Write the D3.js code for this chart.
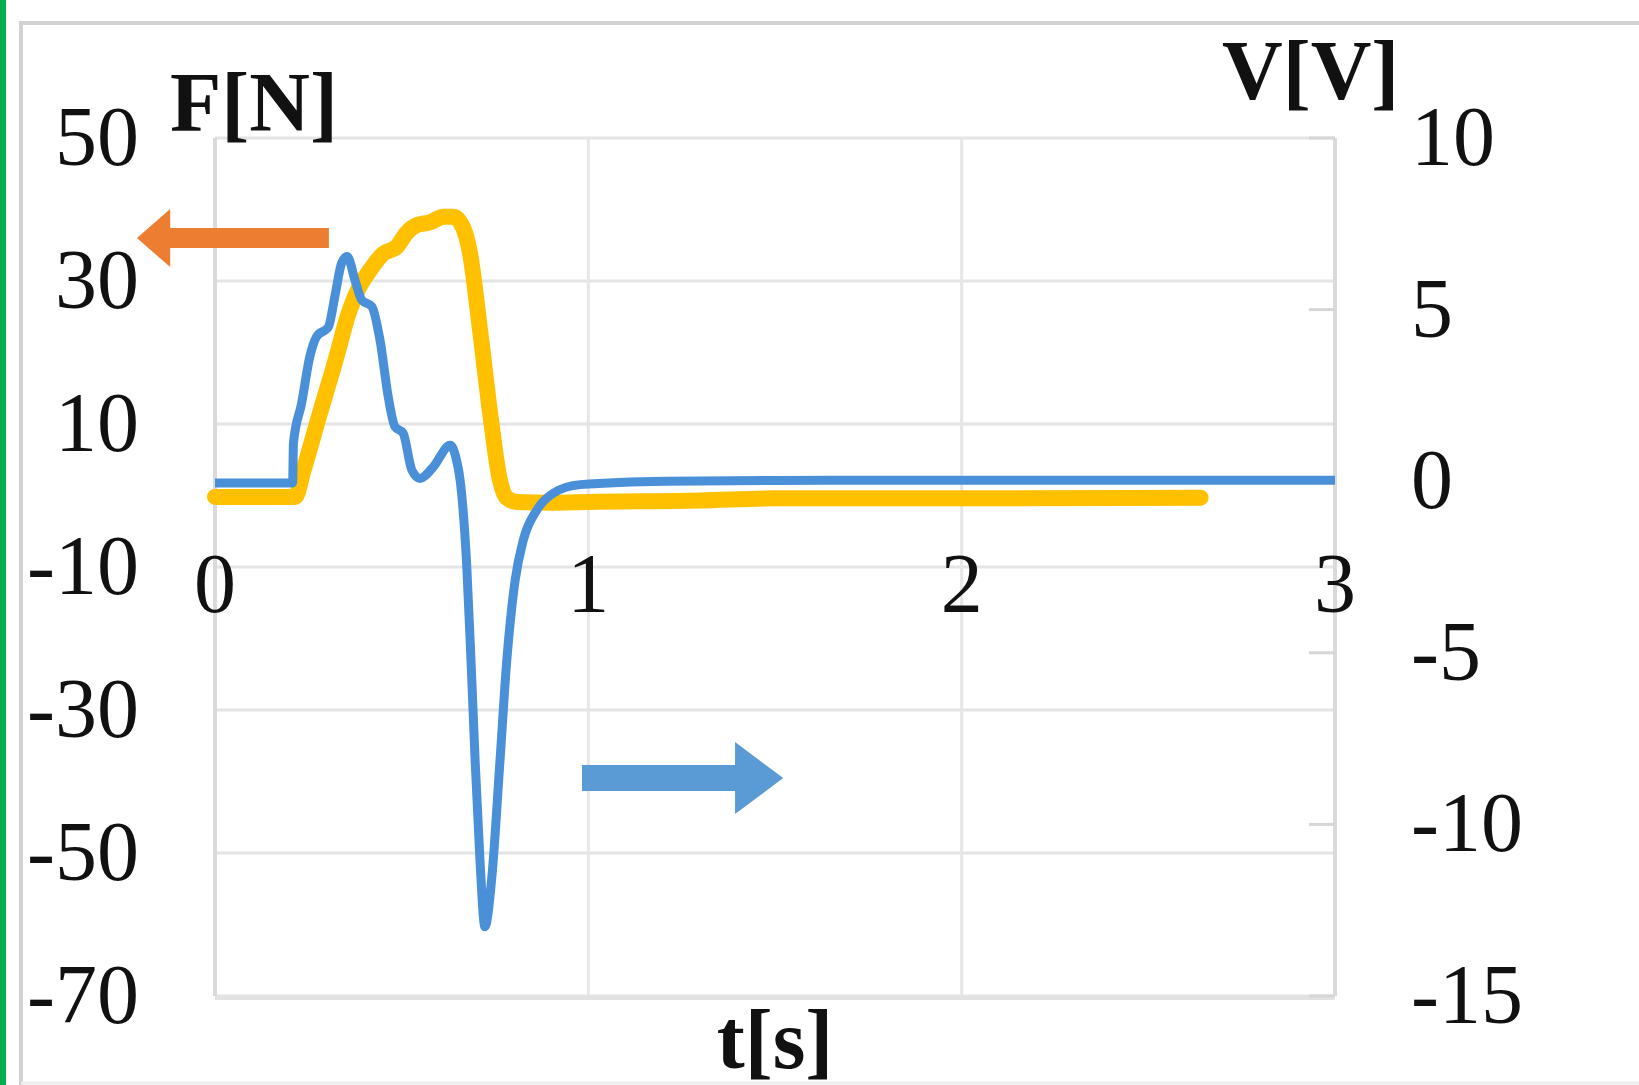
<!DOCTYPE html>
<html>
<head>
<meta charset="utf-8">
<script src="https://cdn.jsdelivr.net/npm/d3@7"></script>
<style>
  body { margin: 0; background: #fff; }
  text { font-family: "Liberation Serif", "Times New Roman", serif; fill: #111; }
</style>
</head>
<body>
<div id="chart"></div>
<script>
// chart size
var width = 1639,
    height = 1085;

// data (t in s, force in N, voltage in V)
var forceT = [0, 0.215, 0.237, 0.281, 0.326, 0.355, 0.385, 0.415, 0.45, 0.487, 0.513, 0.54, 0.576, 0.612, 0.638, 0.665, 0.683, 0.71, 0.737, 0.763, 0.781, 0.808, 0.9, 1.0, 1.3, 1.5, 2.0, 2.64];
var forceN = [-0.2, -0.2, 3.5, 11.5, 19.5, 25.0, 29.0, 31.5, 33.8, 34.8, 36.7, 37.8, 38.2, 39.0, 39.0, 37.4, 33.9, 23.1, 11.5, 2.2, -0.3, -0.9, -1.0, -0.9, -0.7, -0.4, -0.4, -0.3];

var voltT = [0, 0.208, 0.21, 0.232, 0.254, 0.272, 0.304, 0.321, 0.339, 0.354, 0.375, 0.393, 0.42, 0.442, 0.464, 0.482, 0.504, 0.527, 0.549, 0.585, 0.63, 0.645, 0.657, 0.674, 0.686, 0.697, 0.71, 0.723, 0.741, 0.763, 0.781, 0.804, 0.826, 0.862, 0.906, 0.978, 1.21, 1.5, 2.0, 3.0];
var voltV = [-0.05, -0.05, 1.1, 2.27, 3.63, 4.21, 4.5, 5.38, 6.35, 6.55, 5.86, 5.28, 5.09, 4.11, 2.46, 1.59, 1.4, 0.33, 0.08, 0.42, 1.05, 0.7, 0.0, -2.4, -5.3, -8.2, -11.1, -12.98, -11.6, -8.2, -5.3, -2.88, -1.71, -0.84, -0.35, -0.1, 0.0, 0.02, 0.03, 0.03];

// tick labels
var tTicks = [0, 1, 2, 3];
var fTicks = [50, 30, 10, -10, -30, -50, -70];
var vTicks = [10, 5, 0, -5, -10, -15];

// arrow annotations in data units
var leftArrow = { t0: 0.305, t1: -0.209, head: -0.12, y: 36.0 };   // force axis
var rightArrow = { t0: 0.983, t1: 1.522, head: 1.393, y: -8.65 };  // voltage axis

// scales
var x = d3.scaleLinear().domain([0, 3]).range([215, 1335]);
var yF = d3.scaleLinear().domain([-70, 50]).range([996, 138]);
var yV = d3.scaleLinear().domain([-15, 10]).range([996, 138]);

var svg = d3.select("#chart").append("svg")
    .attr("width", width)
    .attr("height", height);

// outer frame + green edge
svg.append("rect")
    .attr("x", 21).attr("y", 23)
    .attr("width", width).attr("height", height)
    .attr("fill", "none")
    .attr("stroke", "#d2d2d2")
    .attr("stroke-width", 4);
svg.append("rect")
    .attr("x", 0).attr("y", 0)
    .attr("width", 6).attr("height", height)
    .attr("fill", "#00b050");
svg.append("line")
    .attr("x1", 21).attr("x2", width)
    .attr("y1", height - 2).attr("y2", height - 2)
    .attr("stroke", "#ececec").attr("stroke-width", 3);

// grid
var grid = svg.append("g").attr("class", "grid");
grid.selectAll("line.h")
    .data(fTicks)
    .enter().append("line")
    .attr("class", "h")
    .attr("x1", x(0)).attr("x2", x(3))
    .attr("y1", function(d) { return yF(d); })
    .attr("y2", function(d) { return yF(d); })
    .attr("stroke", "#e4e4e4")
    .attr("stroke-width", 3);
grid.selectAll("line.v")
    .data(tTicks)
    .enter().append("line")
    .attr("class", "v")
    .attr("x1", function(d) { return x(d); })
    .attr("x2", function(d) { return x(d); })
    .attr("y1", yF(50)).attr("y2", yF(-70))
    .attr("stroke", function(d) { return (d == 0 || d == 3) ? "#dadada" : "#e6e6e6"; })
    .attr("stroke-width", function(d) { return (d == 0 || d == 3) ? 4 : 3; });
// bottom border a bit heavier
grid.append("line")
    .attr("x1", x(0)).attr("x2", x(3))
    .attr("y1", yF(-70) + 2).attr("y2", yF(-70) + 2)
    .attr("stroke", "#e2e2e2").attr("stroke-width", 4);

// right axis ticks (inside)
grid.selectAll("line.rt")
    .data(vTicks)
    .enter().append("line")
    .attr("class", "rt")
    .attr("x1", x(3) - 26).attr("x2", x(3))
    .attr("y1", function(d) { return yV(d); })
    .attr("y2", function(d) { return yV(d); })
    .attr("stroke", "#d6d6d6")
    .attr("stroke-width", 3);

// tick labels
svg.append("g").selectAll("text")
    .data(fTicks)
    .enter().append("text")
    .attr("x", 139)
    .attr("y", function(d) { return yF(d) + 27; })
    .attr("text-anchor", "end")
    .style("font-size", "84px")
    .text(function(d) { return d; });

svg.append("g").selectAll("text")
    .data(vTicks)
    .enter().append("text")
    .attr("x", 1411)
    .attr("y", function(d) { return yV(d) + 27; })
    .attr("text-anchor", "start")
    .style("font-size", "84px")
    .text(function(d) { return d; });

svg.append("g").selectAll("text")
    .data(tTicks)
    .enter().append("text")
    .attr("x", function(d) { return x(d); })
    .attr("y", 612)
    .attr("text-anchor", "middle")
    .style("font-size", "84px")
    .text(function(d) { return d; });

// axis titles
svg.append("text")
    .attr("x", 170).attr("y", 131)
    .style("font-size", "84px").style("font-weight", "bold")
    .text("F[N]");
svg.append("text")
    .attr("x", 1222).attr("y", 99)
    .style("font-size", "84px").style("font-weight", "bold")
    .text("V[V]");
svg.append("text")
    .attr("x", 775).attr("y", 1068)
    .attr("text-anchor", "middle")
    .style("font-size", "84px").style("font-weight", "bold")
    .text("t[s]");

// lines
var forceData = forceT.map(function(t, i) { return [t, forceN[i]]; });
var voltData = voltT.map(function(t, i) { return [t, voltV[i]]; });

var forceLine = d3.line()
    .x(function(d) { return x(d[0]); })
    .y(function(d) { return yF(d[1]); })
    .curve(d3.curveMonotoneX);
var voltLine = d3.line()
    .x(function(d) { return x(d[0]); })
    .y(function(d) { return yV(d[1]); })
    .curve(d3.curveMonotoneX);

svg.append("path")
    .datum(forceData)
    .attr("d", forceLine)
    .attr("fill", "none")
    .attr("stroke", "#ffc000")
    .attr("stroke-width", 16)
    .attr("stroke-linejoin", "round")
    .attr("stroke-linecap", "round");

svg.append("path")
    .datum(voltData)
    .attr("d", voltLine)
    .attr("fill", "none")
    .attr("stroke", "#4a90d9")
    .attr("stroke-width", 9)
    .attr("stroke-linejoin", "round");

// arrows
function arrowPath(a, yScale, shaft, headHalf) {
    var y0 = yScale(a.y);
    var xs = x(a.t0), xh = x(a.head), xt = x(a.t1);
    return "M" + xs + "," + (y0 - shaft / 2) +
        "L" + xh + "," + (y0 - shaft / 2) +
        "L" + xh + "," + (y0 - headHalf) +
        "L" + xt + "," + y0 +
        "L" + xh + "," + (y0 + headHalf) +
        "L" + xh + "," + (y0 + shaft / 2) +
        "L" + xs + "," + (y0 + shaft / 2) + "Z";
}

svg.append("path")
    .attr("d", arrowPath(leftArrow, yF, 20, 29))
    .attr("fill", "#ed7d31");
svg.append("path")
    .attr("d", arrowPath(rightArrow, yV, 26, 36))
    .attr("fill", "#5b9bd5");
</script>
</body>
</html>
